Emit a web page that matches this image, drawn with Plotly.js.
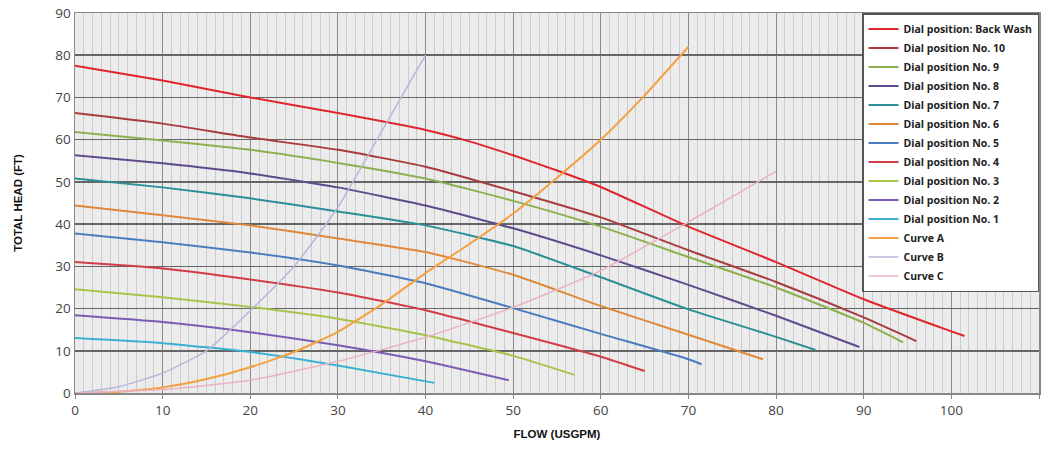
<!DOCTYPE html>
<html>
<head>
<meta charset="utf-8">
<script src="https://cdn.plot.ly/plotly-3.0.1.min.js"></script>
<style>html,body{margin:0;padding:0;background:#fff;}#chart{width:1048px;height:450px;}</style>
</head>
<body>
<div id="chart"></div>
<script>
// Series names
const names = ["Dial position: Back Wash","Dial position No. 10","Dial position No. 9","Dial position No. 8",
  "Dial position No. 7","Dial position No. 6","Dial position No. 5","Dial position No. 4",
  "Dial position No. 3","Dial position No. 2","Dial position No. 1","Curve A","Curve B","Curve C"];

// Flow (x) and head (y) values
const xBackWash = [0,10,20,30,40,45,50,55,60,70,80,90,100,101.5];
const yBackWash = [77.5,74,70,66.3,62.3,59.6,56.3,52.7,48.8,39.4,31,22.2,14.6,13.5];
const xNo10 = [0,10,20,30,40,50,60,70,80,90,96];
const yNo10 = [66.3,63.8,60.5,57.6,53.6,47.8,41.6,33.8,26.3,17.9,12.3];
const xNo9 = [0,10,20,30,40,50,60,70,80,90,94.5];
const yNo9 = [61.8,59.8,57.6,54.5,50.8,45.5,39.4,32.2,25,16.6,12];
const xNo8 = [0,10,20,30,40,50,60,70,80,89.5];
const yNo8 = [56.3,54.4,52,48.7,44.4,39,32.6,25.6,18.3,10.9];
const xNo7 = [0,10,20,30,40,50,60,70,80,84.5];
const yNo7 = [50.8,48.7,46.1,43,39.7,34.8,27.4,19.8,13.3,10.2];
const xNo6 = [0,10,20,30,40,50,60,70,78.5];
const yNo6 = [44.4,42.1,39.7,36.6,33.4,28,20.6,13.8,8];
const xNo5 = [0,10,20,30,40,50,60,70,71.5];
const yNo5 = [37.8,35.7,33.3,30.2,26,20.1,14,8,6.8];
const xNo4 = [0,10,20,30,40,50,60,65];
const yNo4 = [31,29.5,26.9,23.8,19.6,14.2,8.6,5.2];
const xNo3 = [0,10,20,30,40,50,57];
const yNo3 = [24.6,22.7,20.4,17.6,13.7,8.8,4.3];
const xNo2 = [0,10,20,30,40,49.5];
const yNo2 = [18.4,16.8,14.4,11.3,7.5,3];
const xNo1 = [0,10,20,30,41];
const yNo1 = [13,11.8,9.7,6.5,2.4];
const xCurveA = [0,5,10,15,20,25,30,35,40,45,50,55,60,65,70];
const yCurveA = [0,0.3,1.3,3.3,6.1,9.7,14.5,21,28.4,35.3,42.5,51,60,70.5,82];
const xCurveB = [0,5,10,15,20,25,30,35,40];
const yCurveB = [0,1.5,4.7,10,19.5,30,44,62,80];
const xCurveC = [0,10,20,30,40,50,60,70,80];
const yCurveC = [0,0.8,3,7.5,13.2,20.3,29,40.5,52.5];

const xs = [xBackWash,xNo10,xNo9,xNo8,xNo7,xNo6,xNo5,xNo4,xNo3,xNo2,xNo1,xCurveA,xCurveB,xCurveC];
const ys = [yBackWash,yNo10,yNo9,yNo8,yNo7,yNo6,yNo5,yNo4,yNo3,yNo2,yNo1,yCurveA,yCurveB,yCurveC];
const colors = ['#e0262c','#a83c3e','#8db04e','#5f4b8b','#2a8f96','#e0883a','#4a7dbf','#d23c46',
  '#a6c44a','#7b5cb5','#3ab0d2','#f5a040','#b5b8d8','#e8b4c4'];
const widths = [2,2,2,2,2,2,2,2,2,2,2,2,1.5,1.5];

const traces = names.map((n,i)=>({
  type:'scatter', mode:'lines', name:n, x:xs[i], y:ys[i],
  line:{color:colors[i], width:widths[i], shape:'spline', smoothing:0.5}
}));

const layout = {
  width:1048, height:450,
  margin:{l:75, r:9, t:13, b:57},
  paper_bgcolor:'#ffffff',
  plot_bgcolor:'#ececec',
  showlegend:true,
  legend:{x:1, xanchor:'right', y:1, yanchor:'top', bgcolor:'#ffffff', bordercolor:'#555555', borderwidth:1.5,
    font:{family:'Open Sans, sans-serif', size:10.5, color:'#222222', weight:'bold'}, tracegroupgap:0},
  xaxis:{range:[0,110], dtick:10, tick0:0, showgrid:true, gridcolor:'#8a8a8a', gridwidth:1,
    minor:{dtick:1, showgrid:true, gridcolor:'#cccccc', gridwidth:1},
    showline:true, linecolor:'#888888', linewidth:1.5, mirror:true, zeroline:false,
    ticks:'outside', ticklen:4, tickcolor:'#888888',
    tickfont:{family:'Open Sans, sans-serif', size:13.5, color:'#444444'},
    title:{text:'FLOW (USGPM)', font:{family:'Liberation Sans, Arial, sans-serif', size:11.5, color:'#111111', weight:'bold'}, standoff:12}},
  yaxis:{range:[0,90], dtick:10, tick0:0, showgrid:true, gridcolor:'#666666', gridwidth:1.5,
    showline:true, linecolor:'#888888', linewidth:1.5, mirror:true, zeroline:false,
    ticks:'', tickfont:{family:'Open Sans, sans-serif', size:13.5, color:'#444444'},
    title:{text:'TOTAL HEAD (FT)', font:{family:'Liberation Sans, Arial, sans-serif', size:11.5, color:'#111111', weight:'bold'}, standoff:30}}
};

Plotly.newPlot('chart', traces, layout, {displayModeBar:false, staticPlot:true});
</script>
</body>
</html>
